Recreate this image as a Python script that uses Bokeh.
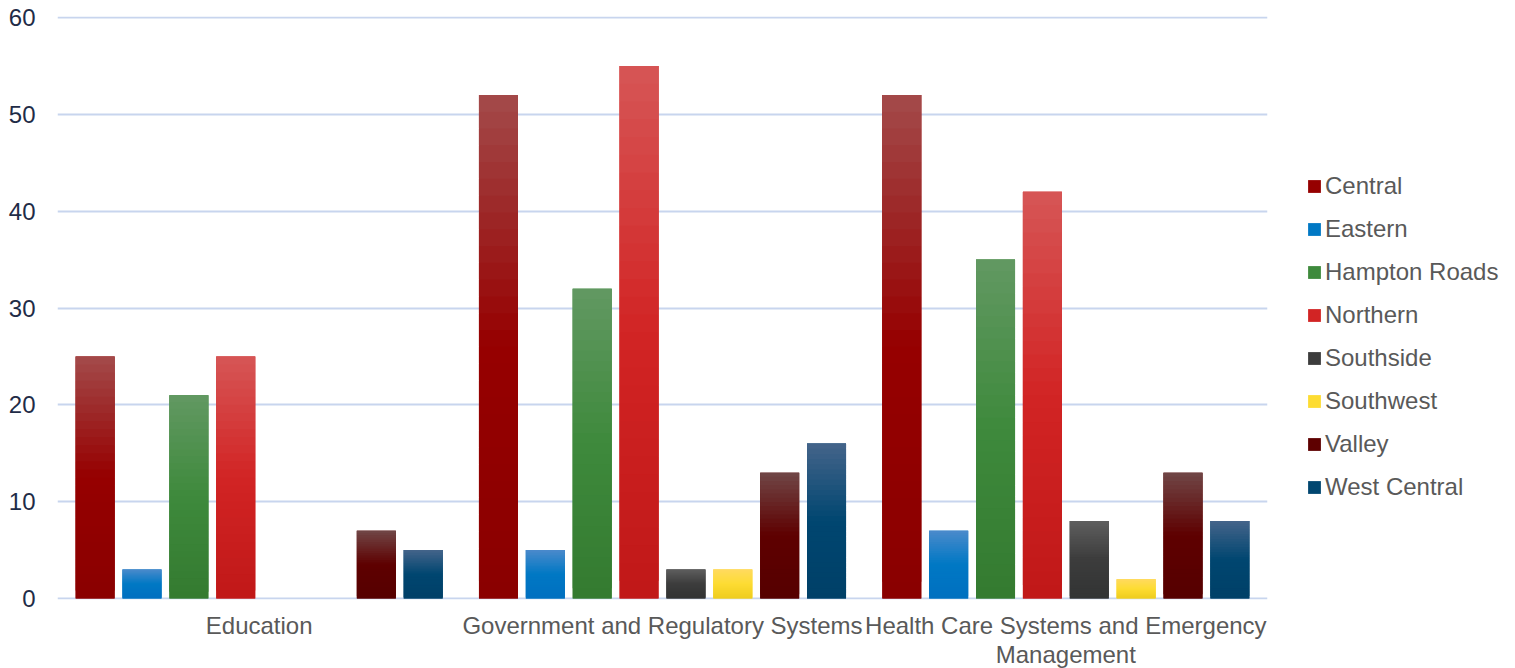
from bokeh.plotting import figure
from bokeh.models import ColumnDataSource, Range1d, Legend, LegendItem, FixedTicker
from bokeh.embed import file_html
from bokeh.resources import INLINE

# ---------------- data ----------------
categories = ["Education", "Government and Regulatory Systems",
              "Health Care Systems and Emergency Management"]
category_labels = ["Education", "Government and Regulatory Systems",
                   "Health Care Systems and Emergency\nManagement"]
series = ["Central", "Eastern", "Hampton Roads", "Northern",
          "Southside", "Southwest", "Valley", "West Central"]
central = [25, 52, 52]
eastern = [3, 5, 7]
hampton_roads = [21, 32, 35]
northern = [25, 55, 42]
southside = [0, 3, 8]
southwest = [0, 3, 2]
valley = [7, 13, 13]
west_central = [5, 16, 8]
y_ticks = [0, 10, 20, 30, 40, 50, 60]
values = [central, eastern, hampton_roads, northern,
          southside, southwest, valley, west_central]

# ---------------- styles ----------------
# (top, middle, bottom) colours of each series' vertical gradient
grad = [
    ((163, 74, 74), (150, 0, 0), (138, 0, 0)),
    ((74, 138, 203), (0, 120, 196), (0, 112, 192)),
    ((98, 152, 98), (62, 138, 60), (52, 122, 48)),
    ((214, 86, 86), (210, 36, 36), (192, 24, 24)),
    ((94, 94, 94), (60, 60, 60), (50, 52, 52)),
    ((255, 218, 96), (253, 220, 50), (238, 204, 30)),
    ((112, 70, 70), (94, 0, 0), (86, 0, 0)),
    ((68, 100, 138), (0, 70, 112), (0, 64, 104)),
]
FONT = "Liberation Sans"
N_SLICES = 30
BAR_W = 0.0967
STEP = 0.1162


def mix(a, b, t):
    return "#%02x%02x%02x" % tuple(int(round(a[i] + (b[i] - a[i]) * t)) for i in range(3))


def grad_color(g, t):
    top, mid, bot = g
    if t < 0.5:
        return mix(bot, mid, t / 0.5)
    return mix(mid, top, (t - 0.5) / 0.5)


cat_pos = [i + 0.5 for i in range(len(categories))]

p = figure(x_range=Range1d(0, len(categories)), y_range=Range1d(-0.1, 60.1),
           frame_width=1210, frame_height=583,
           min_border_left=57, min_border_top=16, min_border_bottom=60, min_border_right=0,
           output_backend="svg", toolbar_location=None)
p.outline_line_color = None
p.background_fill_color = "white"

items = []
for i, (name, vals) in enumerate(zip(series, values)):
    off = (i - 3.5) * STEP
    xs = [c + off for c in cat_pos]
    base_src = ColumnDataSource(dict(x=xs, top=vals))
    r = p.vbar(x="x", top="top", bottom=0, width=BAR_W,
               source=base_src, fill_color=mix(grad[i][1], grad[i][1], 0), line_color=None)
    items.append(LegendItem(label=name, renderers=[r]))
    sx, bots, tops, cols = [], [], [], []
    for x, v in zip(xs, vals):
        for k in range(N_SLICES):
            sx.append(x)
            bots.append(v * k / N_SLICES)
            tops.append(min(v, v * (k + 2) / N_SLICES))
            cols.append(grad_color(grad[i], (k + 0.5) / N_SLICES))
    src = ColumnDataSource(dict(x=sx, bottom=bots, top=tops, color=cols))
    p.vbar(x="x", top="top", bottom="bottom", width=BAR_W,
           source=src, fill_color="color", line_color=None)

# axes
p.xgrid.grid_line_color = None
p.ygrid.grid_line_color = "#C8D5EE"
p.ygrid.grid_line_width = 2
p.yaxis.ticker = FixedTicker(ticks=y_ticks)
p.xaxis.ticker = FixedTicker(ticks=cat_pos)
p.xaxis.major_label_overrides = {pos: lab for pos, lab in zip(cat_pos, category_labels)}
for ax in (p.xaxis[0], p.yaxis[0]):
    ax.axis_line_color = None
    ax.major_tick_line_color = None
    ax.minor_tick_line_color = None
    ax.major_tick_out = 0
    ax.major_tick_in = 0
    ax.minor_tick_out = 0
    ax.minor_tick_in = 0
    ax.major_label_text_font = FONT
    ax.major_label_text_font_size = "24px"
p.xaxis.major_label_text_color = "#595959"
p.xaxis.major_label_text_line_height = 1.1
p.xaxis.major_label_standoff = 12
p.yaxis.major_label_text_color = "#1F2C47"
p.yaxis.major_label_standoff = 22

legend = Legend(items=items, location=(39, 91), margin=16, padding=8, spacing=1,
                label_height=42, glyph_height=16, glyph_width=16, label_standoff=3,
                label_text_font=FONT, label_text_font_size="24px", label_text_color="#595959",
                border_line_color=None, background_fill_alpha=0)
p.add_layout(legend, "right")

open("out.html", "w").write(file_html(p, INLINE))
